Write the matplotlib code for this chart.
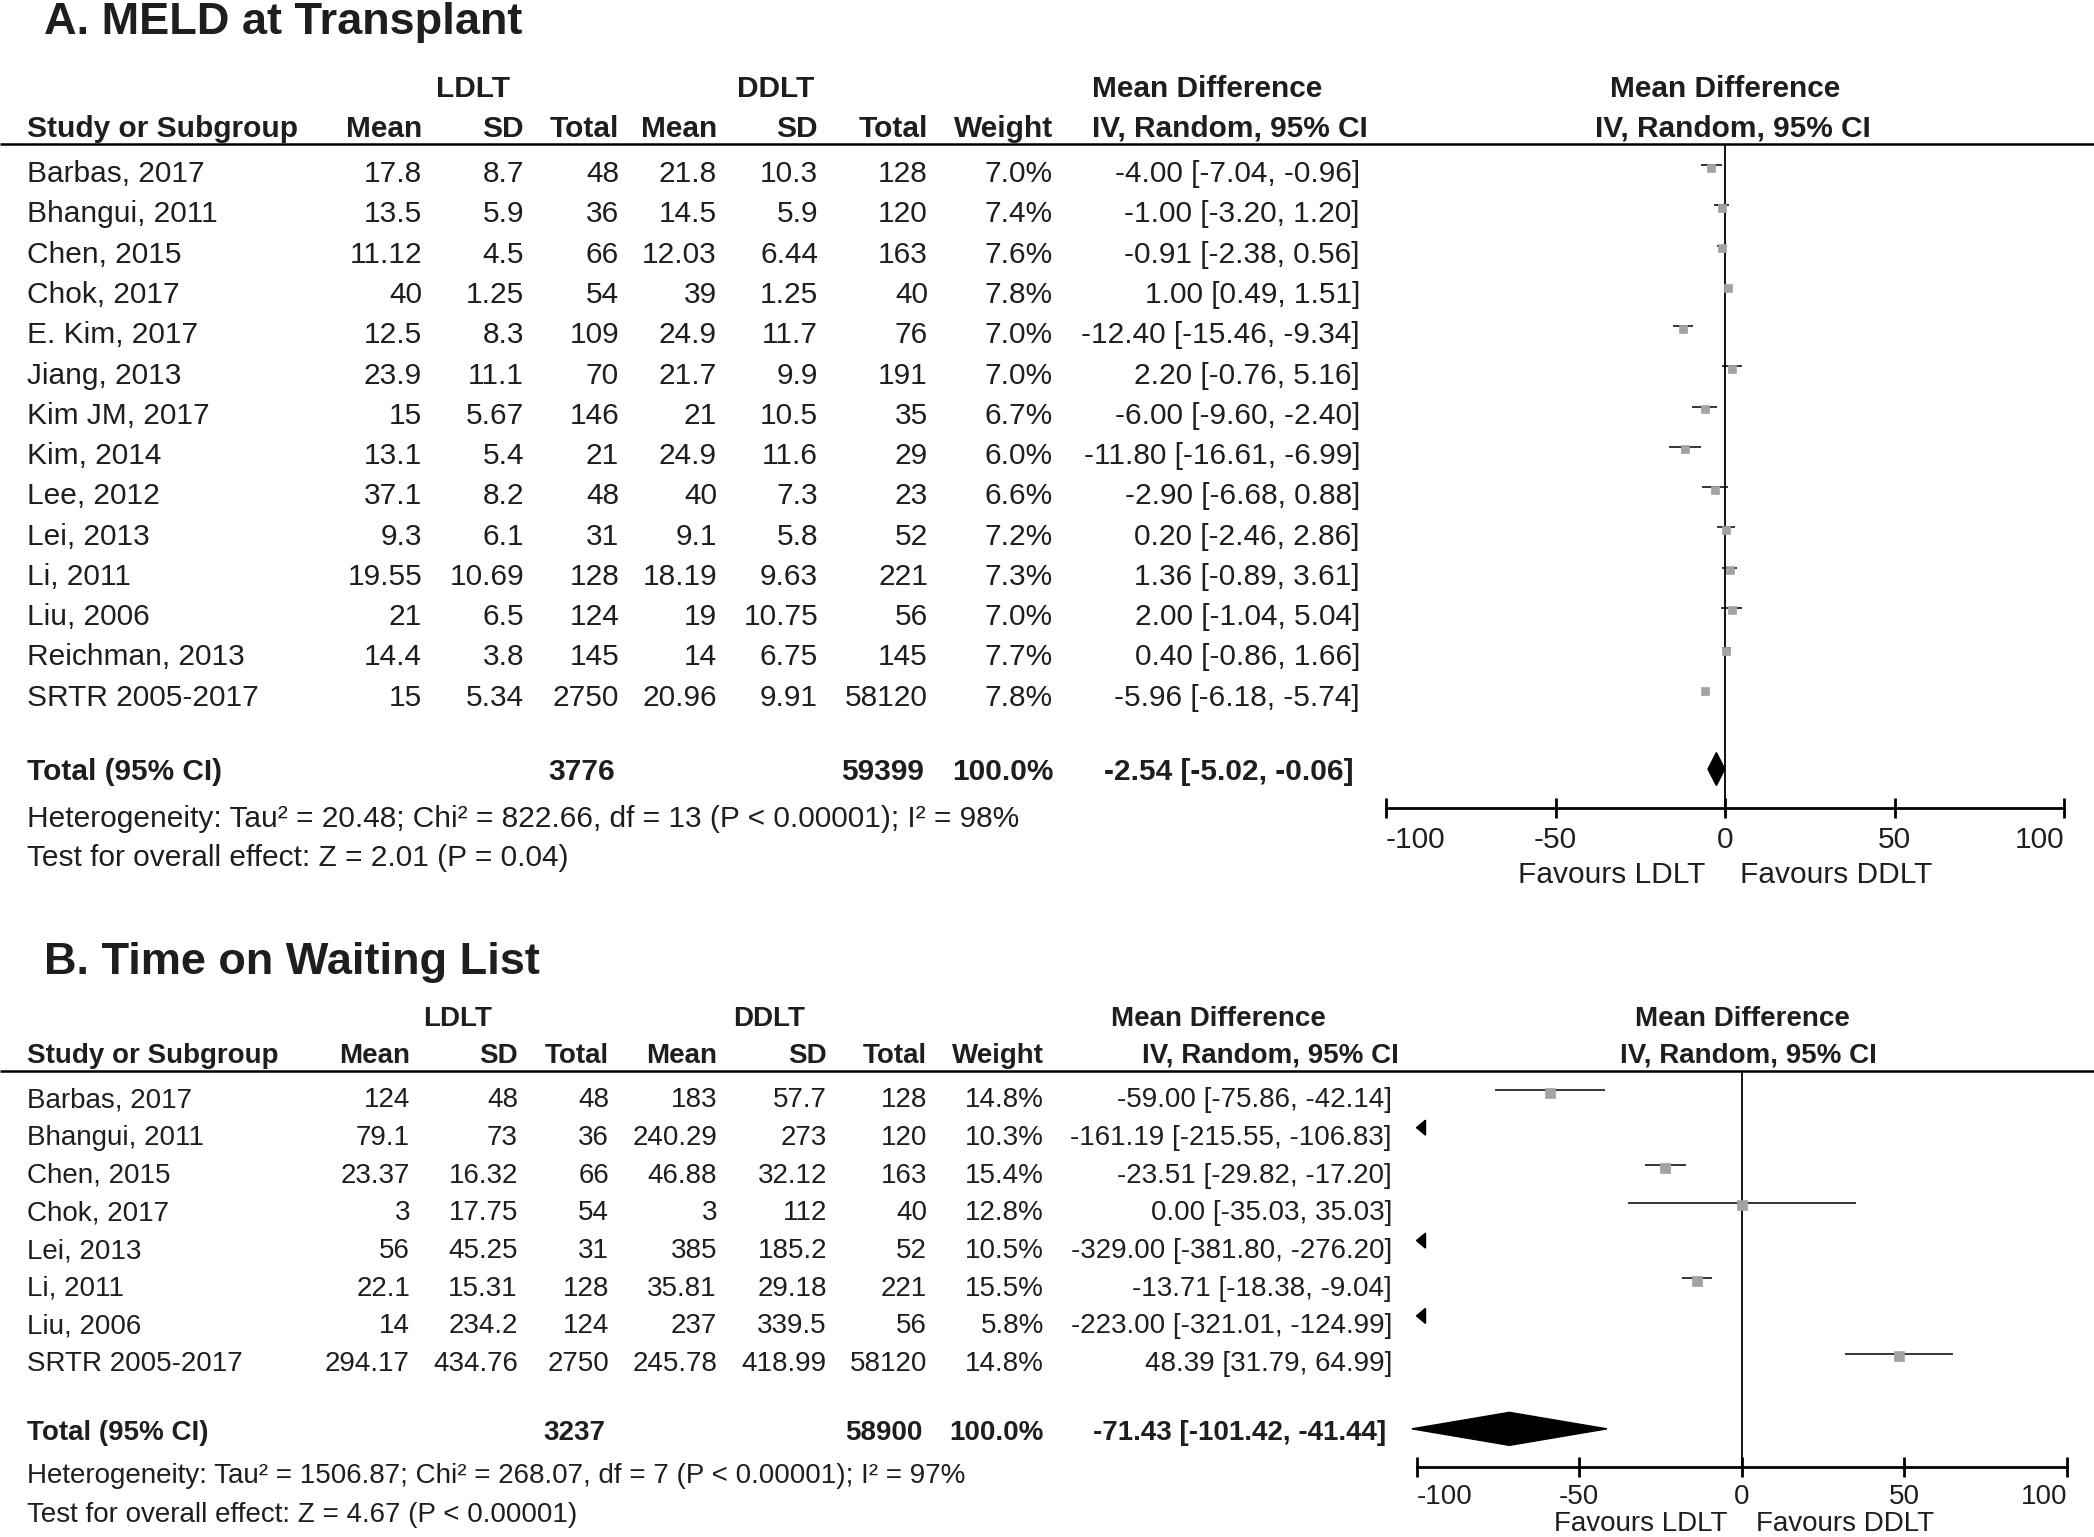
import matplotlib
matplotlib.use('Agg')
import matplotlib.pyplot as plt
from matplotlib.patches import Polygon

plt.rcParams['font.family'] = ['Liberation Sans', 'DejaVu Sans']

# ---------------- data : panel A (MELD at transplant) ----------------
studies_A = ["Barbas, 2017", "Bhangui, 2011", "Chen, 2015", "Chok, 2017", "E. Kim, 2017",
             "Jiang, 2013", "Kim JM, 2017", "Kim, 2014", "Lee, 2012", "Lei, 2013",
             "Li, 2011", "Liu, 2006", "Reichman, 2013", "SRTR 2005-2017"]
ldlt_mean_A = ["17.8", "13.5", "11.12", "40", "12.5", "23.9", "15", "13.1", "37.1", "9.3",
               "19.55", "21", "14.4", "15"]
ldlt_sd_A = ["8.7", "5.9", "4.5", "1.25", "8.3", "11.1", "5.67", "5.4", "8.2", "6.1",
             "10.69", "6.5", "3.8", "5.34"]
ldlt_n_A = [48, 36, 66, 54, 109, 70, 146, 21, 48, 31, 128, 124, 145, 2750]
ddlt_mean_A = ["21.8", "14.5", "12.03", "39", "24.9", "21.7", "21", "24.9", "40", "9.1",
               "18.19", "19", "14", "20.96"]
ddlt_sd_A = ["10.3", "5.9", "6.44", "1.25", "11.7", "9.9", "10.5", "11.6", "7.3", "5.8",
             "9.63", "10.75", "6.75", "9.91"]
ddlt_n_A = [128, 120, 163, 40, 76, 191, 35, 29, 23, 52, 221, 56, 145, 58120]
weight_A = [7.0, 7.4, 7.6, 7.8, 7.0, 7.0, 6.7, 6.0, 6.6, 7.2, 7.3, 7.0, 7.7, 7.8]
md_A = [-4.00, -1.00, -0.91, 1.00, -12.40, 2.20, -6.00, -11.80, -2.90, 0.20, 1.36, 2.00, 0.40, -5.96]
lo_A = [-7.04, -3.20, -2.38, 0.49, -15.46, -0.76, -9.60, -16.61, -6.68, -2.46, -0.89, -1.04, -0.86, -6.18]
hi_A = [-0.96, 1.20, 0.56, 1.51, -9.34, 5.16, -2.40, -6.99, 0.88, 2.86, 3.61, 5.04, 1.66, -5.74]
total_n_A = (3776, 59399)
total_md_A = (-2.54, -5.02, -0.06)
het_A = "Heterogeneity: Tau\u00b2 = 20.48; Chi\u00b2 = 822.66, df = 13 (P < 0.00001); I\u00b2 = 98%"
test_A = "Test for overall effect: Z = 2.01 (P = 0.04)"

# ---------------- data : panel B (time on waiting list) ----------------
studies_B = ["Barbas, 2017", "Bhangui, 2011", "Chen, 2015", "Chok, 2017", "Lei, 2013",
             "Li, 2011", "Liu, 2006", "SRTR 2005-2017"]
ldlt_mean_B = ["124", "79.1", "23.37", "3", "56", "22.1", "14", "294.17"]
ldlt_sd_B = ["48", "73", "16.32", "17.75", "45.25", "15.31", "234.2", "434.76"]
ldlt_n_B = [48, 36, 66, 54, 31, 128, 124, 2750]
ddlt_mean_B = ["183", "240.29", "46.88", "3", "385", "35.81", "237", "245.78"]
ddlt_sd_B = ["57.7", "273", "32.12", "112", "185.2", "29.18", "339.5", "418.99"]
ddlt_n_B = [128, 120, 163, 40, 52, 221, 56, 58120]
weight_B = [14.8, 10.3, 15.4, 12.8, 10.5, 15.5, 5.8, 14.8]
md_B = [-59.00, -161.19, -23.51, 0.00, -329.00, -13.71, -223.00, 48.39]
lo_B = [-75.86, -215.55, -29.82, -35.03, -381.80, -18.38, -321.01, 31.79]
hi_B = [-42.14, -106.83, -17.20, 35.03, -276.20, -9.04, -124.99, 64.99]
total_n_B = (3237, 58900)
total_md_B = (-71.43, -101.42, -41.44)
het_B = "Heterogeneity: Tau\u00b2 = 1506.87; Chi\u00b2 = 268.07, df = 7 (P < 0.00001); I\u00b2 = 97%"
test_B = "Test for overall effect: Z = 4.67 (P < 0.00001)"

axis_ticks = [-100, -50, 0, 50, 100]
tick_labels = ["-100", "-50", "0", "50", "100"]

# ---------------- figure ----------------
W, H, DPI = 2094, 1537, 100
fig = plt.figure(figsize=(W / DPI, H / DPI), dpi=DPI)
fig.patch.set_facecolor('white')
axT = fig.add_axes([0, 0, 1, 1])
axT.set_xlim(0, W)
axT.set_ylim(H, 0)
axT.axis('off')

TXT = '#1e1e1e'
SQ = '#a3a3a3'


def put(x, yc, s, size, ha='left', bold=False):
    axT.text(x, yc + 0.358 * size * DPI / 72, s, fontsize=size, ha=ha, va='baseline',
             fontweight='bold' if bold else 'normal', color=TXT)


def fmt_ci(m, l, h):
    return f"{m:.2f} [{l:.2f}, {h:.2f}]"


def panel(L, title, studies, lm, lsd, ln, dm, dsd, dn, wt, md, lo, hi,
          tot_n, tot_md, het, test):
    fs = L['fs']
    put(L['title_x'], L['title_y'], title, 32.5, bold=True)
    # headers
    put(L['ldlt_c'], L['h1'], "LDLT", fs, ha='center', bold=True)
    put(L['ddlt_c'], L['h1'], "DDLT", fs, ha='center', bold=True)
    put(L['md_h1x'], L['h1'], "Mean Difference", fs, bold=True)
    put(L['md_h2x'], L['h2'], "IV, Random, 95% CI", fs, bold=True)
    put(L['fh1x'], L['h1'], "Mean Difference", fs, ha='center', bold=True)
    put(L['fh2x'], L['h2'], "IV, Random, 95% CI", fs, ha='center', bold=True)
    put(L['study_x'], L['h2'], "Study or Subgroup", fs, bold=True)
    c = L['cols']
    for x, lab in zip(c, ["Mean", "SD", "Total", "Mean", "SD", "Total", "Weight"]):
        put(x, L['h2'], lab, fs, ha='right', bold=True)
    axT.plot([0, W], [L['hline'], L['hline']], color='black', lw=1.8, solid_capstyle='butt')
    # rows
    for i, s in enumerate(studies):
        y = L['row0'] + L['step'] * i + L['txt_off']
        put(L['study_x'], y, s, fs)
        vals = [lm[i], lsd[i], str(ln[i]), dm[i], dsd[i], str(dn[i]), f"{wt[i]:.1f}%"]
        for x, v in zip(c, vals):
            put(x, y, v, fs, ha='right')
        put(L['ci_r'], y, fmt_ci(md[i], lo[i], hi[i]), fs, ha='right')
    yt = L['tot_y']
    put(L['study_x'], yt, "Total (95% CI)", fs, bold=True)
    put(c[2] - 4, yt, str(tot_n[0]), fs, ha='right', bold=True)
    put(c[5] - 4, yt, str(tot_n[1]), fs, ha='right', bold=True)
    put(c[6], yt, "100.0%", fs, ha='right', bold=True)
    put(L['ci_r'] - 6, yt, fmt_ci(*tot_md), fs, ha='right', bold=True)
    put(L['study_x'], L['het_y'], het, fs)
    put(L['study_x'], L['test_y'], test, fs)

    # forest plot
    pl, pr, ptop, pbot = L['fx0'], L['fx1'], L['hline'], L['axis_y']
    ax = fig.add_axes([pl / W, 1 - pbot / H, (pr - pl) / W, (pbot - ptop) / H])
    ax.set_xlim(-100, 100)
    ax.set_ylim((pbot - L['row0']) / L['step'], (ptop - L['row0']) / L['step'])
    ax.patch.set_visible(False)
    for sp in ['top', 'left', 'right']:
        ax.spines[sp].set_visible(False)
    ax.spines['bottom'].set_linewidth(2.0)
    ax.set_yticks([])
    ax.set_xticks(axis_ticks)
    ax.set_xticklabels(tick_labels)
    ax.tick_params(axis='x', direction='inout', length=14.4, width=2.0, pad=L['pad'],
                   labelsize=fs, labelcolor=TXT)
    tl = ax.get_xticklabels()
    tl[0].set_ha('left')
    tl[-1].set_ha('right')
    ax.axvline(0, color='black', lw=1.3)
    upx = (pr - pl) / 200.0  # pixels per unit
    for i in range(len(md)):
        if hi[i] < -100:
            tw = 9 / upx
            th = 7.5 / L['step']
            ax.add_patch(Polygon([(-100, i), (-100 + tw, i - th), (-100 + tw, i + th)],
                                 closed=True, color='black', clip_on=False))
        else:
            ax.plot([lo[i], hi[i]], [i, i], color='black', lw=1.1, solid_capstyle='butt')
            side = 4.9 * wt[i] ** 0.25 * 72 / DPI
            ax.plot(md[i], i + 2.5 / L['step'], marker='s', ms=side, color=SQ, mec=SQ, mew=0.5)
    ti = L['tot_row']
    dh = 16.5 / L['step']
    m, l, h = tot_md
    ax.add_patch(Polygon([(l, ti), (m, ti - dh), (h, ti), (m, ti + dh)], closed=True,
                         color='black', clip_on=False))
    put(L['zero_px'] - L['fav_l'], L['fav_y'], "Favours LDLT", fs, ha='right')
    put(L['zero_px'] + L['fav_r'], L['fav_y'], "Favours DDLT", fs, ha='left')


LA = dict(fs=21.5, title_x=44, title_y=18, h1=86, h2=126, hline=144,
          ldlt_c=473, ddlt_c=776, md_h1x=1092, md_h2x=1092, fh1x=1725, fh2x=1733,
          study_x=27, cols=[422, 524, 619, 717, 818, 928, 1053], ci_r=1360,
          row0=165, step=40.27, txt_off=6.5, tot_y=769, het_y=816, test_y=855,
          fx0=1386, fx1=2064, axis_y=808, pad=5.5, tot_row=15,
          zero_px=1725, fav_l=20, fav_r=15, fav_y=872)
LB = dict(fs=20, title_x=44, title_y=958, h1=1016, h2=1053, hline=1071,
          ldlt_c=458, ddlt_c=769, md_h1x=1111, md_h2x=1142, fh1x=1742, fh2x=1748,
          study_x=27, cols=[410, 518, 609, 717, 827, 927, 1044], ci_r=1392,
          row0=1090, step=37.65, txt_off=7.5, tot_y=1430, het_y=1473, test_y=1512,
          fx0=1416.5, fx1=2067, axis_y=1467, pad=5.0, tot_row=9,
          zero_px=1742, fav_l=15, fav_r=14, fav_y=1521)

panel(LA, "A. MELD at Transplant", studies_A, ldlt_mean_A, ldlt_sd_A, ldlt_n_A,
      ddlt_mean_A, ddlt_sd_A, ddlt_n_A, weight_A, md_A, lo_A, hi_A,
      total_n_A, total_md_A, het_A, test_A)
panel(LB, "B. Time on Waiting List", studies_B, ldlt_mean_B, ldlt_sd_B, ldlt_n_B,
      ddlt_mean_B, ddlt_sd_B, ddlt_n_B, weight_B, md_B, lo_B, hi_B,
      total_n_B, total_md_B, het_B, test_B)

fig.savefig('out.png', dpi=DPI, facecolor='white')
